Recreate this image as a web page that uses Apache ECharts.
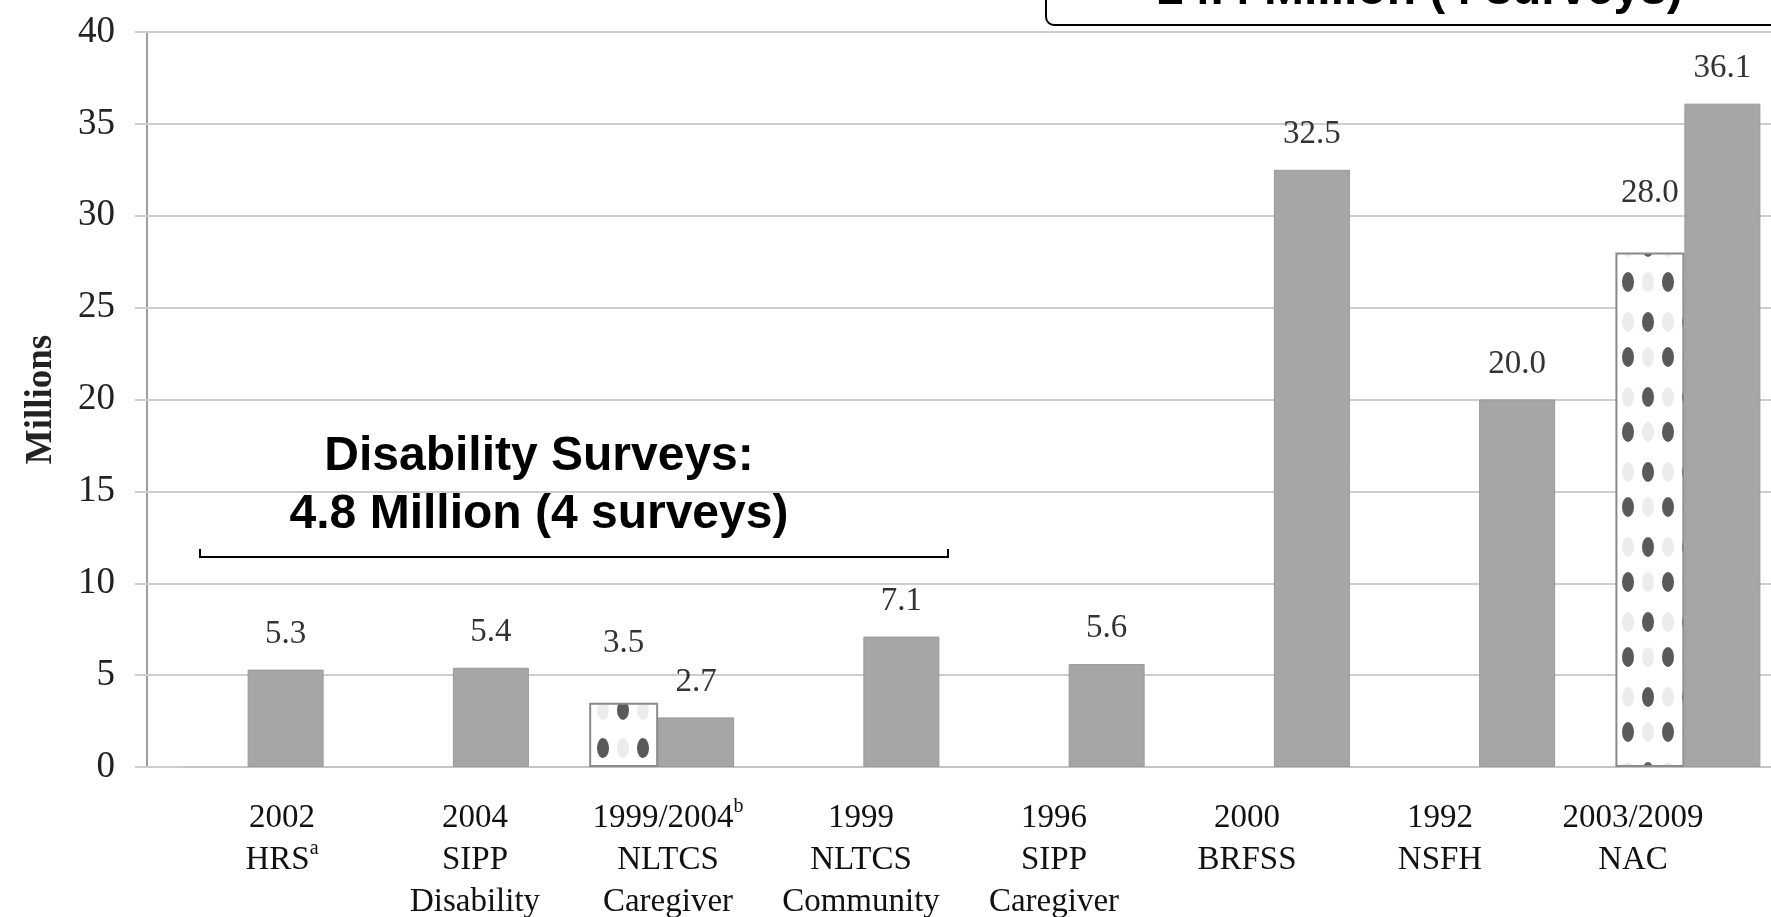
<!DOCTYPE html>
<html>
<head>
<meta charset="utf-8">
<script src="https://cdn.jsdelivr.net/npm/echarts@6/dist/echarts.min.js"></script>
<style>
html,body{margin:0;padding:0;background:#fff;}
#c{width:1771px;height:917px;}
</style>
</head>
<body>
<div id="c"></div>
<script>
// ---- data ----
const categories = [
  '2002\nHRSᵃ',
  '2004\nSIPP\nDisability',
  '1999/2004ᵇ\nNLTCS\nCaregiver',
  '1999\nNLTCS\nCommunity',
  '1996\nSIPP\nCaregiver',
  '2000\nBRFSS',
  '1992\nNSFH',
  '2003/2009\nNAC'
];
const solidValues  = [5.3, 5.4, 2.7, 7.1, 5.6, 32.5, 20.0, 36.1];
const dottedValues = [null, null, 3.5, null, null, null, null, 28.0];
const yMin = 0, yMax = 40, yStep = 5;
const yAxisTitle = 'Millions';
const disabilityNote = ['Disability Surveys:', '4.8 Million (4 surveys)'];
const caregiverNote = '24.4 Million (4 surveys)';

// ---- dotted fill pattern ----
function makeDots(sideX, centerX, centerY, sideY) {
  const c = document.createElement('canvas');
  c.width = 40; c.height = 75;
  const g = c.getContext('2d');
  g.fillStyle = '#ffffff';
  g.fillRect(0, 0, 40, 75);
  function oval(x, y, col) {
    g.fillStyle = col;
    for (const dx of [-40, 0, 40]) for (const dy of [-75, 0, 75]) {
      g.beginPath();
      g.ellipse(x + dx, y + dy, 6, 10, 0, 0, Math.PI * 2);
      g.fill();
    }
  }
  oval(centerX, sideY, '#ececec');
  oval(sideX, centerY, '#ececec');
  oval(centerX, centerY, '#5a5a5a');
  oval(sideX, sideY, '#5a5a5a');
  return { image: c, repeat: 'repeat' };
}
const dotPhases = { 2: [3, 23, 35, 73], 7: [28, 8, 22, 57] };
const dottedData = dottedValues.map((v, i) => {
  if (v == null) return null;
  const p = dotPhases[i] || [0, 20, 0, 37];
  return { value: v, itemStyle: { color: makeDots(p[0], p[1], p[2], p[3]) } };
});

const serif = 'Liberation Serif, Times New Roman, serif';
const sans = 'Liberation Sans, Arial, sans-serif';
const gridColor = '#cdcdcd';

function fmtCat(s) {
  return s.replace(/ᵃ/g, '{sup|a}').replace(/ᵇ/g, '{sup|b}');
}

const chart = echarts.init(document.getElementById('c'), null, { renderer: 'canvas' });
chart.setOption({
  animation: false,
  backgroundColor: '#ffffff',
  grid: [
    { left: 183, top: 32, width: 1642, height: 735, containLabel: false, outerBoundsMode: 'none' },
    { left: 185.5, top: 32, width: 1544, height: 735, containLabel: false, outerBoundsMode: 'none' }
  ],
  xAxis: [
    {
      type: 'category', gridIndex: 0, data: categories,
      axisLine: { show: true, lineStyle: { color: '#c4c4c4', width: 2 } },
      axisTick: { show: false },
      axisLabel: { show: false },
      splitLine: { show: false }
    },
    {
      type: 'category', gridIndex: 0, data: categories, show: false
    },
    {
      type: 'category', gridIndex: 1, data: categories,
      axisLine: { show: false }, axisTick: { show: false },
      splitLine: { show: false },
      axisLabel: {
        interval: 0, margin: 30,
        fontFamily: serif, fontSize: 33, lineHeight: 42, color: '#111',
        formatter: fmtCat,
        rich: {
          sup: { fontFamily: serif, fontSize: 20, lineHeight: 20, verticalAlign: 'top', color: '#111' }
        }
      }
    }
  ],
  yAxis: [
    {
      type: 'value', gridIndex: 0, min: yMin, max: yMax, interval: yStep,
      axisLine: { show: false },
      axisTick: { show: true, length: 48, lineStyle: { color: gridColor, width: 2 } },
      splitLine: { show: true, lineStyle: { color: gridColor, width: 2 } },
      axisLabel: { margin: 68, fontFamily: serif, fontSize: 37, color: '#222' },
      name: yAxisTitle, nameLocation: 'middle', nameRotate: 90, nameGap: 123,
      nameTextStyle: { fontFamily: serif, fontSize: 37, fontWeight: 'bold', color: '#222' }
    },
    {
      type: 'value', gridIndex: 0, min: yMin, max: yMax, interval: yStep,
      position: 'left', offset: 36,
      axisLine: { show: true, lineStyle: { color: '#9c9c9c', width: 2 } },
      axisTick: { show: false }, axisLabel: { show: false }, splitLine: { show: false }
    },
    { type: 'value', gridIndex: 1, show: false }
  ],
  series: [
    {
      type: 'bar', xAxisIndex: 1, yAxisIndex: 0, data: dottedData,
      barWidth: 69, barGap: '110%',
      itemStyle: { borderColor: '#8a8a8a', borderWidth: 2 },
      label: {
        show: true, position: 'top', distance: 43,
        fontFamily: serif, fontSize: 33, color: '#333',
        formatter: p => p.value == null ? '' : Number(p.value).toFixed(1)
      }
    },
    {
      type: 'bar', xAxisIndex: 1, yAxisIndex: 0,
      data: dottedValues.map(() => null), barWidth: 69, barGap: '110%'
    },
    {
      type: 'bar', xAxisIndex: 0, yAxisIndex: 0, data: solidValues,
      barWidth: 76,
      itemStyle: { color: '#a6a6a6', borderColor: '#999999', borderWidth: 1 },
      label: {
        show: true, position: 'top', distance: 19,
        fontFamily: serif, fontSize: 33, color: '#333',
        formatter: p => Number(p.value).toFixed(1)
      }
    }
  ],
  graphic: [
    {
      type: 'rect', left: 1045, top: -40, z: 10,
      shape: { width: 800, height: 64, r: 8 },
      style: { fill: '#ffffff', stroke: '#000000', lineWidth: 2 }
    },
    {
      type: 'text', x: 1420, y: -9, z: 11,
      style: { text: caregiverNote, fontFamily: sans, fontWeight: 'bold', fontSize: 48,
               fill: '#000', align: 'center', verticalAlign: 'middle' }
    },
    {
      type: 'text', x: 539, y: 486, z: 11,
      style: { text: disabilityNote.join('\n'), fontFamily: sans, fontWeight: 'bold', fontSize: 48,
               lineHeight: 58, fill: '#000', align: 'center', verticalAlign: 'middle' }
    },
    {
      type: 'polyline', z: 11,
      shape: { points: [[200, 549], [200, 557], [948, 557], [948, 549]] },
      style: { stroke: '#000', lineWidth: 2, fill: null }
    }
  ]
});
</script>
</body>
</html>
